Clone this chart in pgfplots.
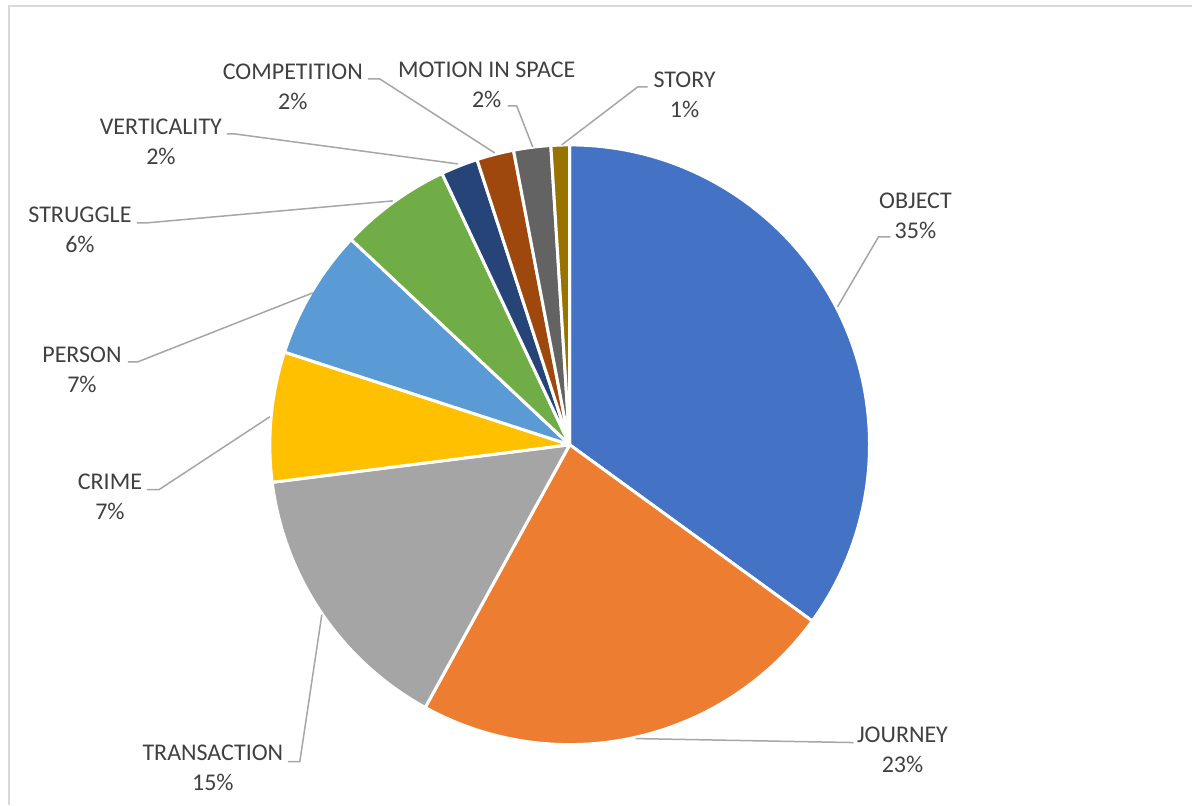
\documentclass[border=0pt]{standalone}
\usepackage{fontspec}
\setmainfont{Carlito}
\usepackage{pgfplots}
\pgfplotsset{compat=1.18}
\definecolor{cObject}{HTML}{4472C4}
\definecolor{cJourney}{HTML}{ED7D31}
\definecolor{cTrans}{HTML}{A5A5A5}
\definecolor{cCrime}{HTML}{FFC000}
\definecolor{cPerson}{HTML}{5B9BD5}
\definecolor{cStruggle}{HTML}{70AD47}
\definecolor{cVert}{HTML}{264478}
\definecolor{cComp}{HTML}{9E480E}
\definecolor{cMotion}{HTML}{636363}
\definecolor{cStory}{HTML}{997300}
\definecolor{frame}{HTML}{D9D9D9}
\definecolor{leader}{HTML}{A6A6A6}
\definecolor{txt}{HTML}{404040}
\tikzset{
  lbl/.style={align=center, text=txt, inner sep=0pt, font=\fontsize{12bp}{15.2bp}\selectfont},
  sl/.style={draw=white, line width=1.5bp, line join=round}}
\begin{document}
\begin{tikzpicture}
\begin{axis}[x=0.5bp, y=0.5bp, xmin=0, xmax=1193, ymin=0, ymax=805,
  y dir=reverse, hide axis, clip=false, enlargelimits=false]
\addplot[draw=none] coordinates {(0,0) (1193,805)};
\addplot[color=frame, line width=0.7bp] coordinates {(9,805) (9,6) (1193,6)};
% slices: values 35,23,15,7,7,6,2,2,2,1 (clockwise from top, 3.6 deg per percent)
\filldraw[sl, fill=cObject]   (axis cs:570,445) -- ++(90:150bp)     arc[start angle=90,     end angle=-36,    radius=150bp] -- cycle;
\filldraw[sl, fill=cJourney]  (axis cs:570,445) -- ++(-36:150bp)    arc[start angle=-36,    end angle=-118.8, radius=150bp] -- cycle;
\filldraw[sl, fill=cTrans]    (axis cs:570,445) -- ++(-118.8:150bp) arc[start angle=-118.8, end angle=-172.8, radius=150bp] -- cycle;
\filldraw[sl, fill=cCrime]    (axis cs:570,445) -- ++(-172.8:150bp) arc[start angle=-172.8, end angle=-198,   radius=150bp] -- cycle;
\filldraw[sl, fill=cPerson]   (axis cs:570,445) -- ++(-198:150bp)   arc[start angle=-198,   end angle=-223.2, radius=150bp] -- cycle;
\filldraw[sl, fill=cStruggle] (axis cs:570,445) -- ++(-223.2:150bp) arc[start angle=-223.2, end angle=-244.8, radius=150bp] -- cycle;
\filldraw[sl, fill=cVert]     (axis cs:570,445) -- ++(-244.8:150bp) arc[start angle=-244.8, end angle=-252,   radius=150bp] -- cycle;
\filldraw[sl, fill=cComp]     (axis cs:570,445) -- ++(-252:150bp)   arc[start angle=-252,   end angle=-259.2, radius=150bp] -- cycle;
\filldraw[sl, fill=cMotion]   (axis cs:570,445) -- ++(-259.2:150bp) arc[start angle=-259.2, end angle=-266.4, radius=150bp] -- cycle;
\filldraw[sl, fill=cStory]    (axis cs:570,445) -- ++(-266.4:150bp) arc[start angle=-266.4, end angle=-270,   radius=150bp] -- cycle;
% leader lines
\addplot[leader, line width=0.75bp] coordinates {(891,237) (879,237) (838,307)};
\addplot[leader, line width=0.75bp] coordinates {(636,739) (854,743)};
\addplot[leader, line width=0.75bp] coordinates {(288,762) (300,762) (322,615)};
\addplot[leader, line width=0.75bp] coordinates {(147,490) (159,490) (270,417)};
\addplot[leader, line width=0.75bp] coordinates {(128,362) (138,362) (313,293)};
\addplot[leader, line width=0.75bp] coordinates {(137,223) (147,223) (393,201)};
\addplot[leader, line width=0.75bp] coordinates {(227,134) (235,134) (458,164)};
\addplot[leader, line width=0.75bp] coordinates {(368,79) (380,79) (495,153)};
\addplot[leader, line width=0.75bp] coordinates {(508,106) (517,106) (533,147)};
\addplot[leader, line width=0.75bp] coordinates {(648,87) (638,87) (562,145)};
% labels
\node[lbl] at (axis cs:916,216) {OBJECT\\35\%};
\node[lbl] at (axis cs:903,750) {JOURNEY\\23\%};
\node[lbl] at (axis cs:213,768) {TRANSACTION\\15\%};
\node[lbl] at (axis cs:110,497) {CRIME\\7\%};
\node[lbl] at (axis cs:82,370) {PERSON\\7\%};
\node[lbl] at (axis cs:80,230) {STRUGGLE\\6\%};
\node[lbl] at (axis cs:161,142) {VERTICALITY\\2\%};
\node[lbl] at (axis cs:293,87) {COMPETITION\\2\%};
\node[lbl] at (axis cs:487,85) {MOTION IN SPACE\\2\%};
\node[lbl] at (axis cs:685,95) {STORY\\1\%};
\end{axis}
\end{tikzpicture}
\end{document}
